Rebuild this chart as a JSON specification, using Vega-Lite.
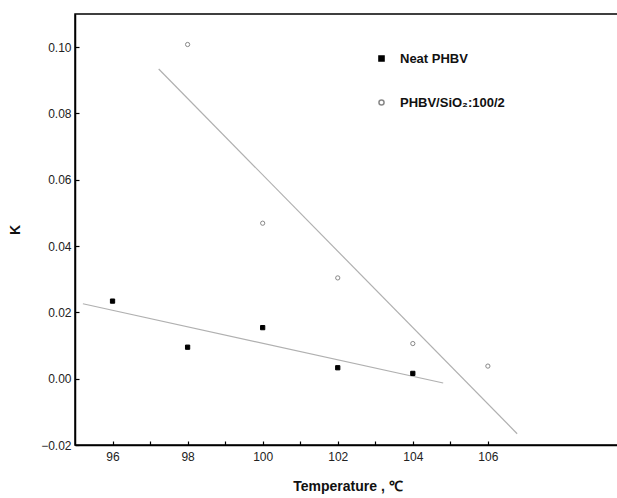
{
  "$schema": "https://vega.github.io/schema/vega-lite/v6.json",
  "width": 545,
  "height": 431,
  "autosize": "none",
  "padding": {"left": 75, "top": 14, "right": 0, "bottom": 53},
  "background": "white",
  "config": {
    "font": "Liberation Sans",
    "view": {"stroke": "black", "strokeWidth": 1.5},
    "axis": {"grid": false}
  },
  "layer": [
    {
      "data": {"values": [
        {"series": "Neat PHBV", "T": 95.21, "K": 0.0226},
        {"series": "Neat PHBV", "T": 104.81, "K": -0.0013},
        {"series": "PHBV/SiO₂:100/2", "T": 97.23, "K": 0.0934},
        {"series": "PHBV/SiO₂:100/2", "T": 106.78, "K": -0.0166}
      ]},
      "mark": {"type": "line", "color": "#b0b0b0", "strokeWidth": 1.2},
      "encoding": {
        "x": {"field": "T", "type": "quantitative", "scale": {"domain": [95, 109.52], "nice": false, "zero": false},
          "axis": {"title": "Temperature , ℃", "titleFontSize": 14, "titleFontWeight": "bold", "titleColor": "#111", "titlePadding": 17,
            "values": [96, 97, 98, 99, 100, 101, 102, 103, 104, 105, 106],
            "labelExpr": "datum.value % 2 == 0 ? datum.label : ''",
            "tickSize": -4, "tickColor": "black", "tickWidth": 1.2, "labelPadding": 10, "labelFontSize": 12, "labelColor": "#222",
            "domainColor": "black", "domainWidth": 1.5}},
        "y": {"field": "K", "type": "quantitative", "scale": {"domain": [-0.02, 0.11], "nice": false, "zero": false},
          "axis": {"title": "K", "titleFontSize": 14, "titleFontWeight": "bold", "titleColor": "#111", "titlePadding": 18,
            "values": [-0.02, -0.01, 0, 0.01, 0.02, 0.03, 0.04, 0.05, 0.06, 0.07, 0.08, 0.09, 0.1],
            "labelExpr": "abs(round(datum.value*100)) % 2 == 0 ? format(datum.value, '.2f') : ''",
            "tickSize": -4, "tickColor": "black", "tickWidth": 1.2, "labelPadding": 8, "labelFontSize": 12, "labelColor": "#222",
            "domainColor": "black", "domainWidth": 1.5}},
        "detail": {"field": "series"}
      }
    },
    {
      "data": {"values": [
        {"series": "Neat PHBV", "T": 96, "K": 0.0234},
        {"series": "Neat PHBV", "T": 98, "K": 0.0095},
        {"series": "Neat PHBV", "T": 100, "K": 0.0154},
        {"series": "Neat PHBV", "T": 102, "K": 0.0033},
        {"series": "Neat PHBV", "T": 104, "K": 0.0016},
        {"series": "PHBV/SiO₂:100/2", "T": 98, "K": 0.1008},
        {"series": "PHBV/SiO₂:100/2", "T": 100, "K": 0.0469},
        {"series": "PHBV/SiO₂:100/2", "T": 102, "K": 0.0304},
        {"series": "PHBV/SiO₂:100/2", "T": 104, "K": 0.0106},
        {"series": "PHBV/SiO₂:100/2", "T": 106, "K": 0.0038}
      ]},
      "mark": {"type": "point", "size": 18, "strokeWidth": 1, "opacity": 1},
      "encoding": {
        "x": {"field": "T", "type": "quantitative"},
        "y": {"field": "K", "type": "quantitative"},
        "shape": {"field": "series", "type": "nominal", "scale": {"domain": ["Neat PHBV", "PHBV/SiO₂:100/2"], "range": ["square", "circle"]},
          "legend": {"title": null, "orient": "none", "legendX": 300, "legendY": 38, "rowPadding": 30, "labelFontSize": 13, "labelFontWeight": "bold", "labelColor": "#111", "symbolSize": 26, "labelOffset": 12}},
        "fill": {"field": "series", "type": "nominal", "scale": {"domain": ["Neat PHBV", "PHBV/SiO₂:100/2"], "range": ["black", "white"]}},
        "stroke": {"field": "series", "type": "nominal", "scale": {"domain": ["Neat PHBV", "PHBV/SiO₂:100/2"], "range": ["black", "#888888"]}}
      }
    }
  ]
}
